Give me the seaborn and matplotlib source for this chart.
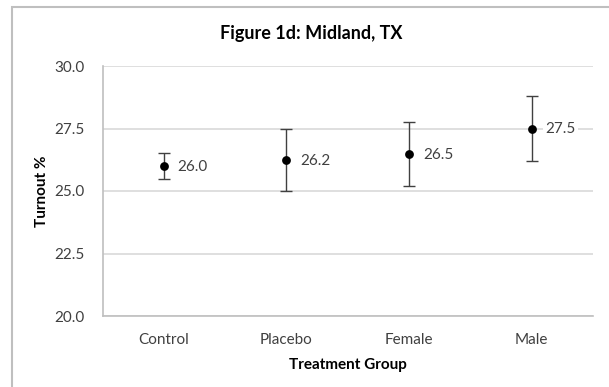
import matplotlib
matplotlib.use("Agg")
import matplotlib.pyplot as plt
import seaborn as sns
import numpy as np
from matplotlib.patches import Rectangle

groups = ["Control", "Placebo", "Female", "Male"]
turnout = [26.0, 26.24, 26.47, 27.5]
errors = [0.52, 1.25, 1.28, 1.29]
yticks = [20.0, 22.5, 25.0, 27.5, 30.0]
title = "Figure 1d: Midland, TX"
xlabel = "Treatment Group"
ylabel = "Turnout %"

sns.set_theme(style="white")
plt.rcParams['font.family'] = ['Lato', 'DejaVu Sans']

fig = plt.figure(figsize=(6.09, 3.87), dpi=100)
ax = fig.add_axes([102.5/609, 1-316/387, (593-102.5)/609, (316-66)/387])

grid_c = "#d9d9d9"
axis_c = "#bfbfbf"
text_c = "#404040"

ax.errorbar(groups, turnout, yerr=errors, fmt="none", ecolor="#404040",
            elinewidth=1.0, capsize=4, capthick=1.0, zorder=3)
sns.scatterplot(x=groups, y=turnout, ax=ax, color="black", s=40,
                edgecolor="black", linewidth=0, zorder=4)

for i, (g, v) in enumerate(zip(groups, turnout)):
    ax.annotate(f"{v:.1f}", (i, v), xytext=(10, -0.5), textcoords="offset points",
                va="center", ha="left", fontsize=11, color=text_c,
                bbox=dict(boxstyle="square,pad=0.15", fc="white", ec="none"))

ax.set_xlim(-0.5, 3.5)
ax.set_ylim(20, 30)
ax.set_yticks(yticks)
ax.set_yticklabels([f"{t:.1f}" for t in yticks], fontsize=11, color=text_c)
ax.set_xticks(range(len(groups)))
ax.set_xticklabels(groups, fontsize=11, color=text_c)
ax.set_xticks(np.arange(-0.5, 4, 1.0), minor=True)
ax.tick_params(axis="x", which="major", length=0, pad=12)
ax.tick_params(axis="x", which="minor", length=5, color=axis_c, width=1)
ax.tick_params(axis="y", which="major", length=10, color=axis_c, width=1, pad=3)
ax.yaxis.grid(True, color=grid_c, linewidth=1.2)
ax.set_axisbelow(True)
for s in ["top", "right"]:
    ax.spines[s].set_visible(False)
for s in ["left", "bottom"]:
    ax.spines[s].set_color(axis_c)
    ax.spines[s].set_linewidth(1.2)

ax.set_xlabel(xlabel, fontsize=11, fontweight="bold", color="black", labelpad=8)
ax.set_ylabel(ylabel, fontsize=11, fontweight="bold", color="black", labelpad=4)
fig.text(311/609, 1-33/387, title, ha="center", va="center", fontsize=13,
         fontweight="bold", color="black")

fig.patches.append(Rectangle((11.5/609, -0.1), 1.2, 1 - 7/387 + 0.1,
                             transform=fig.transFigure, fill=False,
                             edgecolor="#bfbfbf", linewidth=1.5))

fig.savefig("out.png", dpi=100)
